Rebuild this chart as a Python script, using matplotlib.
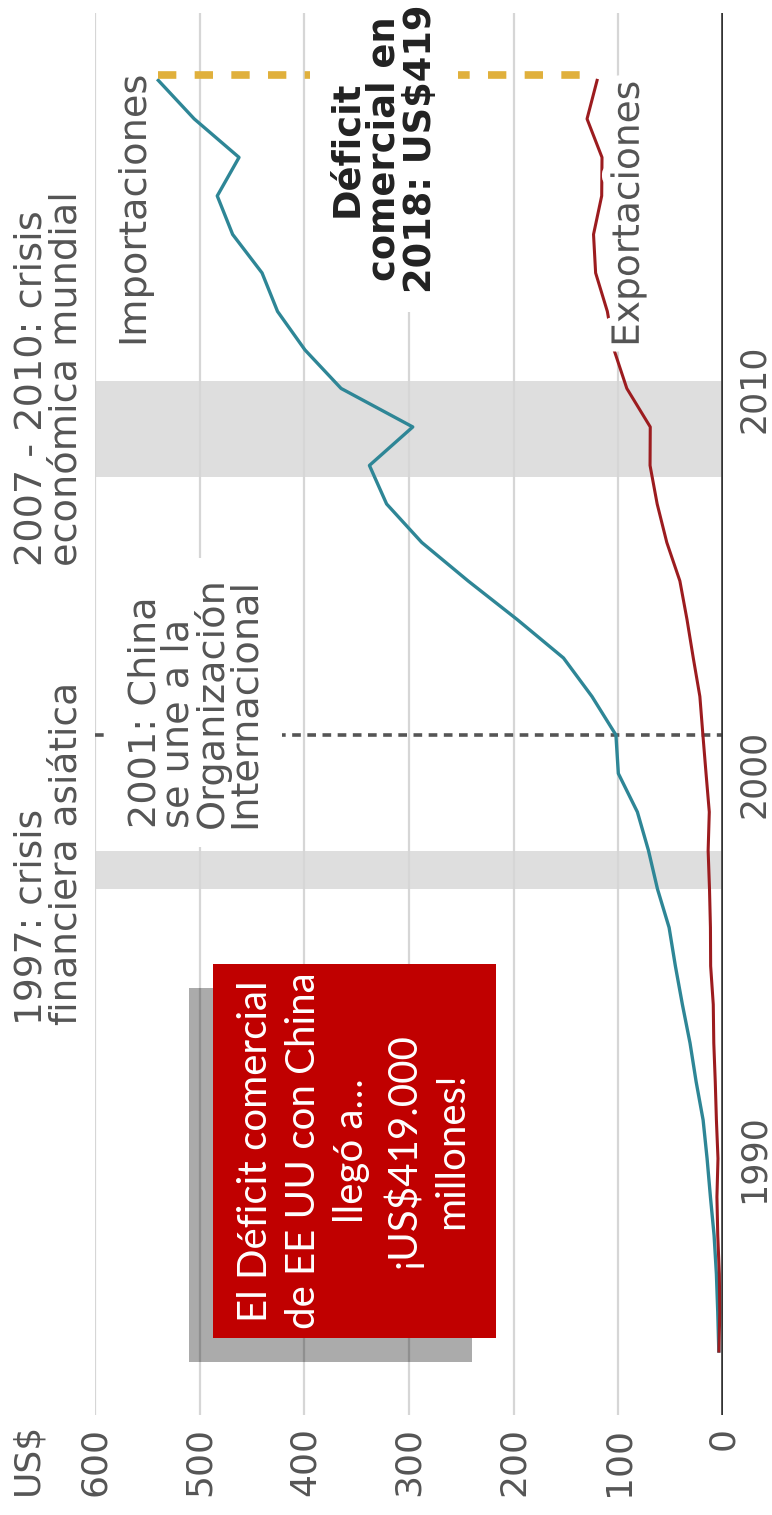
import matplotlib
matplotlib.use('Agg')
import matplotlib.pyplot as plt
import matplotlib.patheffects as pe
from matplotlib.patches import Rectangle

# US trade with China, billions of US$
years = list(range(1985, 2019))
imports = [4, 5, 6.3, 8.5, 12, 15.2, 19, 25.7, 31.5, 38.8, 45.5, 51.5, 62.6,
           71.2, 81.8, 100, 102.3, 125.2, 152.4, 196.7, 243.5, 287.8, 321.4,
           337.8, 296.4, 364.9, 399.4, 425.6, 440.4, 468.5, 483.2, 462.4,
           505.2, 539.5]
exports = [3.9, 3.1, 3.5, 5, 5.8, 4.8, 6.3, 7.4, 8.8, 9.3, 11.8, 12, 12.9,
           14.2, 13.1, 16.2, 19.2, 22.1, 28.4, 34.4, 41.2, 53.7, 62.9, 69.7,
           69.5, 91.9, 104.1, 110.5, 121.7, 123.7, 115.9, 115.6, 129.9, 120.3]

value_ticks = [0, 100, 200, 300, 400, 500, 600]
year_ticks = [1990, 2000, 2010]
crisis_bands = [(1997.0, 1998.0), (2007.7, 2010.2)]
wto_year = 2001

GREY = '#555555'
W, H = 772, 1515

fig = plt.figure(figsize=(W / 100, H / 100), dpi=100)
# the chart is drawn turned on its side: values run right->left, years bottom->top
ax = fig.add_axes([95 / W, 100 / H, 628 / W, 1402 / H])
ax.set_xlim(600, 0)
ax.set_ylim(1983.34, 2019.75)
for s in ax.spines.values():
    s.set_visible(False)

# grid + zero line
ax.set_xticks(value_ticks)
ax.set_xticklabels([str(v) for v in value_ticks], rotation=90, color=GREY, fontsize=26)
ax.tick_params(axis='x', length=0, pad=9)
ax.grid(axis='x', color='#d6d6d6', lw=1.6, zorder=0)
ax.axvline(0, color='#333333', lw=2.6, zorder=4)

ax.yaxis.tick_right()
ax.set_yticks(year_ticks)
ax.set_yticklabels([str(y) for y in year_ticks], rotation=90, va='center',
                   color=GREY, fontsize=25)
ax.tick_params(axis='y', length=0, pad=10)

# crisis bands
for y0, y1 in crisis_bands:
    ax.axhspan(y0, y1, color='black', alpha=0.13, lw=0, zorder=1)

# China joins the WTO
ax.axhline(wto_year, color=GREY, lw=2.6, ls=(0, (2.4, 1.8)), zorder=2)

# series
ax.plot(imports, years, color='#2e8696', lw=2.4, zorder=3)
ax.plot(exports, years, color='#9c1c1f', lw=2.2, zorder=3)

# deficit marker for 2018
ax.plot([imports[-1], exports[-1]], [years[-1] + 0.15, years[-1] + 0.15],
        color='#e0b03c', lw=5.5, ls=(0, (2.4, 2.4)), dash_capstyle='butt', zorder=3)

# annotations
ax.text(678, 1993.47, '1997: crisis\nfinanciera asiática', rotation=90,
        ha='left', va='bottom', color=GREY, fontsize=27, linespacing=0.98)
ax.text(678, 2005.4, '2007 - 2010: crisis\neconómica mundial', rotation=90,
        ha='left', va='bottom', color=GREY, fontsize=27.5, linespacing=0.98)
ax.text(569, 1998.58, '2001: China\nse une a la\nOrganización\nInternacional',
        rotation=90, ha='left', va='bottom', color=GREY, fontsize=27.5,
        linespacing=0.88, zorder=5,
        bbox=dict(boxstyle='square,pad=0.5', fc='white', ec='none'))
ax.text(563, 2011.18, 'Importaciones', rotation=90, ha='center', va='bottom',
        color=GREY, fontsize=27.5)
ax.text(90, 2011.08, 'Exportaciones', rotation=90, ha='center', va='bottom',
        color=GREY, fontsize=27, zorder=5,
        path_effects=[pe.withStroke(linewidth=12, foreground='white')])
ax.text(324, 2016.22, 'Déficit\ncomercial en\n2018: US$419', rotation=90,
        ha='center', va='center', multialignment='center', color='#222222',
        fontsize=26.5, fontweight='bold', linespacing=1.0, zorder=5,
        bbox=dict(boxstyle='square,pad=0.5', fc='white', ec='none'))
ax.text(665, 1983.13, 'US$', rotation=90, ha='center', va='top',
        color=GREY, fontsize=26, clip_on=False)

# red call-out box with shadow (figure pixels)
def fig_rect(x0, y0, x1, y1, **kw):
    return Rectangle((x0 / W, 1 - y1 / H), (x1 - x0) / W, (y1 - y0) / H,
                     transform=fig.transFigure, **kw)

fig.add_artist(fig_rect(189, 988, 472, 1362, color='black', alpha=0.33, lw=0))
fig.add_artist(fig_rect(213, 964, 496, 1338, color='#c00000', lw=0))
fig.text(353.5 / W, 1 - 1151 / H,
         'El Déficit comercial\nde EE UU con China\nllegó a…\n¡US$419.000\nmillones!',
         rotation=90, ha='center', va='center', multialignment='center',
         color='white', fontsize=29, family='Lato', linespacing=1.36)

fig.savefig('out.png', dpi=100, facecolor='white')
